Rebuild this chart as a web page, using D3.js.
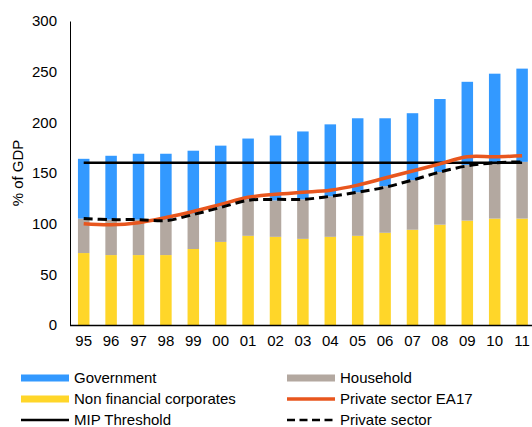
<!DOCTYPE html>
<html>
<head>
<meta charset="utf-8">
<script src="https://cdn.jsdelivr.net/npm/d3@7"></script>
<style>
  body { margin: 0; background: #fff; }
  text { font-family: "Liberation Sans", Arial, sans-serif; fill: #000; }
</style>
</head>
<body>
<div id="chart"></div>
<script>
const years = ["95","96","97","98","99","00","01","02","03","04","05","06","07","08","09","10","11"];
const nonFinancial = [71, 69, 69, 69, 75, 82, 88, 87, 85, 87, 88, 91, 94, 99, 103, 105, 105];
const household = [34, 35, 35, 35, 35, 35, 36, 36, 39, 40, 43, 46, 49, 52, 55, 55, 56];
const government = [59, 63, 65, 65, 62, 60, 60, 64, 67, 71, 73, 67, 66, 72, 82, 88, 92];
const privateEA17 = [100, 99, 101, 106, 112, 119, 126, 129, 131, 133, 138, 145, 152, 159, 166, 166, 167];
const privateSector = [105, 104, 104, 103, 109, 116, 123, 124, 124, 127, 131, 136, 143, 151, 157, 160, 161];
const mipThreshold = 160;
const yTicks = [0, 50, 100, 150, 200, 250, 300];

const width = 532, height = 427,
    margin = ({top: 21, right: 0, bottom: 102, left: 70});

const svg = d3.select("#chart").append("svg")
    .attr("width", width).attr("height", height);

const x = d3.scaleBand()
    .domain(years)
    .range([margin.left, margin.left + 27.4 * years.length])
    .paddingInner(0.58)
    .paddingOuter(0.29);

const y = d3.scaleLinear()
    .domain([0, 300])
    .range([height - margin.bottom, margin.top]);

const data = years.map((yr, i) => ({
    year: yr, nonFinancial: nonFinancial[i], household: household[i], government: government[i]
}));
const keys = ["nonFinancial", "household", "government"];
const colors = {nonFinancial: "#FFD629", household: "#B3A8A0", government: "#3399FF"};
const stacked = d3.stack().keys(keys)(data);

svg.append("g").selectAll("g")
    .data(stacked)
    .join("g")
    .attr("fill", d => colors[d.key])
    .selectAll("rect")
    .data(d => d)
    .join("rect")
    .attr("x", d => x(d.data.year))
    .attr("width", x.bandwidth())
    .attr("y", d => y(d[1]))
    .attr("height", d => y(d[0]) - y(d[1]));

const cx = d => x(d) + x.bandwidth() / 2;

// MIP threshold
svg.append("line")
    .attr("x1", cx(years[0])).attr("x2", cx(years[years.length - 1]))
    .attr("y1", y(mipThreshold)).attr("y2", y(mipThreshold))
    .attr("stroke", "#000").attr("stroke-width", 2.5);

const line = d3.line()
    .x((d, i) => cx(years[i]))
    .y(d => y(d))
    .curve(d3.curveCatmullRom.alpha(0.5));

svg.append("path")
    .datum(privateEA17)
    .attr("d", line)
    .attr("fill", "none")
    .attr("stroke", "#E8561E")
    .attr("stroke-width", 3.5);

svg.append("path")
    .datum(privateSector)
    .attr("d", line)
    .attr("fill", "none")
    .attr("stroke", "#000")
    .attr("stroke-width", 3)
    .attr("stroke-dasharray", "9,5");

// axes
const yAxis = g => g
    .attr("transform", `translate(${margin.left}, 0)`)
    .call(d3.axisLeft(y).tickValues(yTicks).tickSize(0).tickPadding(13))
    .call(g => g.select(".domain").attr("stroke", "#000").attr("stroke-width", 1));

const xAxis = g => g
    .attr("transform", `translate(0, ${height - margin.bottom})`)
    .call(d3.axisBottom(x).tickSize(0).tickPadding(10))
    .call(g => g.select(".domain").attr("d", `M${margin.left},0.5H${width}`).attr("stroke", "#000").attr("stroke-width", 1.5));

svg.append("g").call(yAxis).selectAll("text")
    .style("font-size", "15px").style("font-family", "Liberation Sans, Arial, sans-serif");
svg.append("g").call(xAxis).selectAll("text")
    .style("font-size", "15px").style("font-family", "Liberation Sans, Arial, sans-serif");

svg.append("text")
    .attr("transform", `translate(23, ${y(150)}) rotate(-90)`)
    .attr("text-anchor", "middle")
    .style("font-size", "15px")
    .text("% of GDP");

// legend
const legend = [
    {label: "Government", type: "bar", color: colors.government, col: 0, row: 0},
    {label: "Household", type: "bar", color: colors.household, col: 1, row: 0},
    {label: "Non financial corporates", type: "bar", color: colors.nonFinancial, col: 0, row: 1},
    {label: "Private sector EA17", type: "line", color: "#E8561E", col: 1, row: 1},
    {label: "MIP Threshold", type: "line", color: "#000", col: 0, row: 2},
    {label: "Private sector", type: "dash", color: "#000", col: 1, row: 2}
];
const lx = [21, 287], ly = [378, 399, 420];

const lg = svg.append("g").selectAll("g")
    .data(legend)
    .join("g")
    .attr("transform", d => `translate(${lx[d.col]}, ${ly[d.row]})`);

lg.append("line")
    .attr("x1", 0).attr("x2", 48)
    .attr("stroke", d => d.color)
    .attr("stroke-width", d => d.type === "bar" ? 7 : (d.type === "line" && d.color !== "#000" ? 3.5 : 2.5))
    .attr("stroke-dasharray", d => d.type === "dash" ? "8,4.5" : null);

lg.append("text")
    .attr("x", 53)
    .attr("dy", "0.35em")
    .style("font-size", "15px")
    .text(d => d.label);
</script>
</body>
</html>
